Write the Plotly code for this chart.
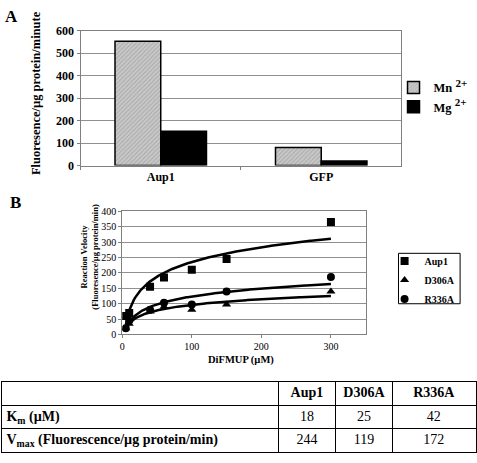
import numpy as np
import plotly.graph_objects as go

SERIF = "Liberation Serif, Times New Roman, serif"

# ---- Panel A data ----
a_categories = ["Aup1", "GFP"]
a_mn = [553, 80]
a_mg = [153, 20]

# ---- Panel B data ----
b_conc = [5, 10, 40, 60, 100, 150, 300]
b_aup1 = [60, 70, 155, 185, 210, 245, 365]
b_d306a = [20, 35, 75, 90, 80, 97, 140]
b_r336a = [20, 45, 80, 103, 97, 140, 187]

# ---- Table data ----
t_header = ["Aup1", "D306A", "R336A"]
t_rows = ["K<sub>m</sub> (µM)", "V<sub>max</sub> (Fluorescence/µg protein/min)"]
t_km = [18, 25, 42]
t_vmax = [244, 119, 172]

W, H = 477, 463
def px_x(p):
    return p / W
def px_y(p):
    return (H - p) / H

fig = go.Figure()

SUP = "<sup><span style='font-size:11px'>2+</span></sup>"

# Panel A bars
fig.add_trace(go.Bar(
    x=a_categories, y=a_mn, name="Mn " + SUP, xaxis="x", yaxis="y",
    marker=dict(color="#c8c8c8", line=dict(color="black", width=1.5),
                pattern=dict(shape="/", fgcolor="#858585", size=3, solidity=0.3)),
    legend="legend",
))
fig.add_trace(go.Bar(
    x=a_categories, y=a_mg, name="Mg " + SUP, xaxis="x", yaxis="y",
    marker=dict(color="black", line=dict(color="black", width=1.5)),
    legend="legend",
))

# Panel B: logarithmic trendlines fitted to the data, then markers
series = [("Aup1", b_aup1, "square"), ("D306A", b_d306a, "triangle-up"), ("R336A", b_r336a, "circle")]
xc = np.array(b_conc, dtype=float)
xs = np.linspace(xc.min(), xc.max(), 200)
for name, vals, sym in series:
    a, b = np.polyfit(np.log(xc), np.array(vals, dtype=float), 1)
    fig.add_trace(go.Scatter(x=xs, y=a * np.log(xs) + b, mode="lines",
                             line=dict(color="black", width=2.5),
                             xaxis="x2", yaxis="y2", showlegend=False, hoverinfo="skip"))
for name, vals, sym in series:
    fig.add_trace(go.Scatter(x=b_conc, y=vals, mode="markers", name=name,
                             marker=dict(symbol=sym, size=8, color="black"),
                             xaxis="x2", yaxis="y2", legend="legend2"))

# Table drawn on its own axes: columns/rows are axis units
col_w = [278, 58, 57, 84]
col_edges = np.concatenate([[0], np.cumsum(col_w)])
col_centers = (col_edges[:-1] + col_edges[1:]) / 2
n_rows = 1 + len(t_rows)
row_edges = list(range(n_rows + 1))
TFONT = dict(family=SERIF, size=14, color="black")

fig.add_trace(go.Scatter(x=list(col_centers[1:]), y=[0.5] * 3, mode="text",
                         text=["<b>%s</b>" % h for h in t_header], textposition="middle center",
                         textfont=TFONT, xaxis="x3", yaxis="y3", showlegend=False, hoverinfo="skip"))
fig.add_trace(go.Scatter(x=[4, 4], y=[1.5, 2.5], mode="text",
                         text=["<b>%s</b>" % r for r in t_rows], textposition="middle right",
                         textfont=TFONT, xaxis="x3", yaxis="y3", showlegend=False, hoverinfo="skip"))
fig.add_trace(go.Scatter(x=list(col_centers[1:]) * 2, y=[1.5] * 3 + [2.5] * 3, mode="text",
                         text=[str(v) for v in t_km + t_vmax], textposition="middle center",
                         textfont=TFONT, xaxis="x3", yaxis="y3", showlegend=False, hoverinfo="skip"))

axis_common = dict(showline=True, linecolor="#808080", linewidth=1, mirror=True,
                   ticks="outside", ticklen=3, tickcolor="#808080", zeroline=False)

fig.update_layout(
    width=W, height=H, margin=dict(l=0, r=0, t=0, b=0),
    paper_bgcolor="white", plot_bgcolor="white",
    font=dict(family=SERIF, color="black"),
    barmode="group", bargap=0.43, bargroupgap=0,
    xaxis=dict(domain=[px_x(79), px_x(402)], anchor="y", type="category",
               tickson="boundaries", showgrid=False,
               tickfont=dict(family=SERIF, size=12, color="black", weight="bold"),
               **axis_common),
    yaxis=dict(domain=[px_y(163.5), px_y(24.5)], anchor="x", range=[0, 600], dtick=100,
               showgrid=True, gridcolor="#909090", gridwidth=1,
               tickfont=dict(family=SERIF, size=12, color="black", weight="bold"),
               **axis_common),
    xaxis2=dict(domain=[px_x(121), px_x(366)], anchor="y2", range=[0, 350], dtick=100,
                showgrid=False, tickfont=dict(family=SERIF, size=10, color="black"),
                **axis_common),
    yaxis2=dict(domain=[px_y(337.7), px_y(210.7)], anchor="x2", range=[0, 400], dtick=50,
                showgrid=True, gridcolor="#909090", gridwidth=1,
                tickfont=dict(family=SERIF, size=10, color="black"),
                **axis_common),
    xaxis3=dict(domain=[px_x(0.5), px_x(476.5)], anchor="y3", range=[0, col_edges[-1]],
                tickvals=list(col_edges[1:-1]), showticklabels=False, ticks="",
                showgrid=True, gridcolor="black", gridwidth=1, zeroline=False,
                showline=True, linecolor="black", linewidth=1, mirror=True, fixedrange=True),
    yaxis3=dict(domain=[px_y(459), px_y(387)], anchor="x3", range=[n_rows, 0],
                tickvals=row_edges[1:-1], showticklabels=False, ticks="",
                showgrid=True, gridcolor="black", gridwidth=1, zeroline=False,
                showline=True, linecolor="black", linewidth=1, mirror=True, fixedrange=True),
    legend=dict(x=px_x(394), y=px_y(68), xanchor="left", yanchor="top",
                font=dict(family=SERIF, size=12.5, color="black", weight="bold"),
                bgcolor="rgba(0,0,0,0)", borderwidth=0, tracegroupgap=0,
                itemwidth=30),
    legend2=dict(x=px_x(385), y=px_y(247), xanchor="left", yanchor="top",
                 font=dict(family=SERIF, size=10, color="black", weight="bold"),
                 bgcolor="rgba(0,0,0,0)", borderwidth=0, itemwidth=30),
    shapes=[dict(type="rect", xref="paper", yref="paper",
                 x0=px_x(399), x1=px_x(461), y0=px_y(306), y1=px_y(254),
                 line=dict(color="black", width=1))],
    annotations=[
        dict(text="<b>A</b>", x=px_x(1), y=px_y(10), xref="paper", yref="paper",
             xanchor="left", yanchor="middle", showarrow=False,
             font=dict(family=SERIF, size=17, color="black")),
        dict(text="<b>B</b>", x=px_x(6), y=px_y(202), xref="paper", yref="paper",
             xanchor="left", yanchor="middle", showarrow=False,
             font=dict(family=SERIF, size=17, color="black")),
        dict(text="<b>Fluoresence/µg protein/minute</b>", x=px_x(35), y=px_y(89),
             xref="paper", yref="paper", textangle=-90, showarrow=False,
             xanchor="center", yanchor="middle",
             font=dict(family=SERIF, size=12.5, color="black")),
        dict(text="<b>Reaction Velocity<br>(Fluoresence/µg protein/min)</b>",
             x=px_x(88), y=px_y(257), xref="paper", yref="paper", textangle=-90,
             xanchor="center", yanchor="middle",
             showarrow=False, font=dict(family=SERIF, size=8.5, color="black")),
        dict(text="<b>DiFMUP (µM)</b>", x=px_x(241), y=px_y(364), xref="paper",
             yref="paper", showarrow=False, xanchor="center", yanchor="middle",
             font=dict(family=SERIF, size=10.5, color="black")),
    ],
)

fig.write_html("out.html", config={"displayModeBar": False},
               post_script="document.body.style.margin='0';document.body.style.overflow='hidden';")
